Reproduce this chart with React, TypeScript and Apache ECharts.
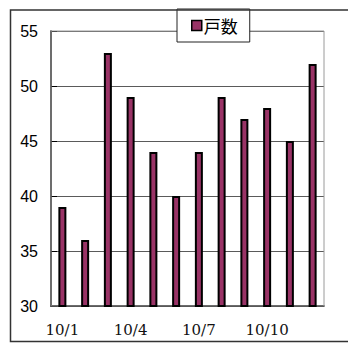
import React, { useEffect, useRef } from "react";
import * as echarts from "echarts";

// Daily household counts, Oct 1 – Oct 12
const days = ["10/1", "10/2", "10/3", "10/4", "10/5", "10/6", "10/7", "10/8", "10/9", "10/10", "10/11", "10/12"];
const households = [39, 36, 53, 49, 44, 40, 44, 49, 47, 48, 45, 52];
const seriesName = "戸数";
const yMin = 30;
const yMax = 55;
const yStep = 5;

export default function App() {
  const ref = useRef<HTMLDivElement>(null);

  useEffect(() => {
    if (!ref.current) return;
    const chart = echarts.init(ref.current, null, { renderer: "svg" });
    chart.setOption({
      animation: false,
      backgroundColor: "#ffffff",
      grid: {
        left: 51,
        top: 31,
        right: 24,
        bottom: 37,
        show: true,
        borderColor: "#9a9a9a",
        borderWidth: 1,
        z: 1,
      },
      graphic: [
        {
          type: "polyline",
          shape: { points: [[400, 10], [10.5, 10], [10.5, 341.5], [400, 341.5]] },
          style: { fill: null, stroke: "#333", lineWidth: 1.5 },
          z: 100,
          silent: true,
        },
      ],
      legend: {
        data: [seriesName],
        left: 177,
        top: 9,
        padding: [8, 12, 8, 14],
        backgroundColor: "#ffffff",
        borderColor: "#222",
        borderWidth: 1,
        itemWidth: 10,
        itemHeight: 10,
        itemStyle: { borderWidth: 1.5, borderColor: "#000" },
        icon: "rect",
        textStyle: {
          fontFamily: "Noto Sans CJK JP",
          fontSize: 17,
          color: "#000",
          padding: [0, 0, 0, -3],
        },
        z: 10,
      },
      xAxis: {
        type: "category",
        data: days,
        boundaryGap: true,
        axisLine: { lineStyle: { color: "#000", width: 1.5 } },
        axisTick: { inside: true, length: 5, interval: 0, lineStyle: { color: "#000" } },
        axisLabel: {
          interval: 2,
          margin: 16,
          fontFamily: "DejaVu Serif",
          fontSize: 15,
          color: "#111",
        },
        splitLine: { show: false },
      },
      yAxis: {
        type: "value",
        min: yMin,
        max: yMax,
        interval: yStep,
        axisLine: { show: true, lineStyle: { color: "#000", width: 1.5 } },
        axisTick: { show: true, inside: true, length: 6, lineStyle: { color: "#000" } },
        axisLabel: {
          margin: 13,
          fontFamily: "Liberation Sans",
          fontSize: 16,
          color: "#000",
        },
        splitLine: { show: true, lineStyle: { color: "#5a5a5a", width: 1 } },
      },
      series: [
        {
          name: seriesName,
          type: "bar",
          data: households,
          barWidth: 8,
          itemStyle: { color: "#993366", borderColor: "#000", borderWidth: 2 },
          z: 3,
        },
      ],
    });
    return () => chart.dispose();
  }, []);

  return (
    <div
      ref={ref}
      style={{ position: "fixed", left: 0, top: 0, width: 348, height: 343 }}
    />
  );
}
